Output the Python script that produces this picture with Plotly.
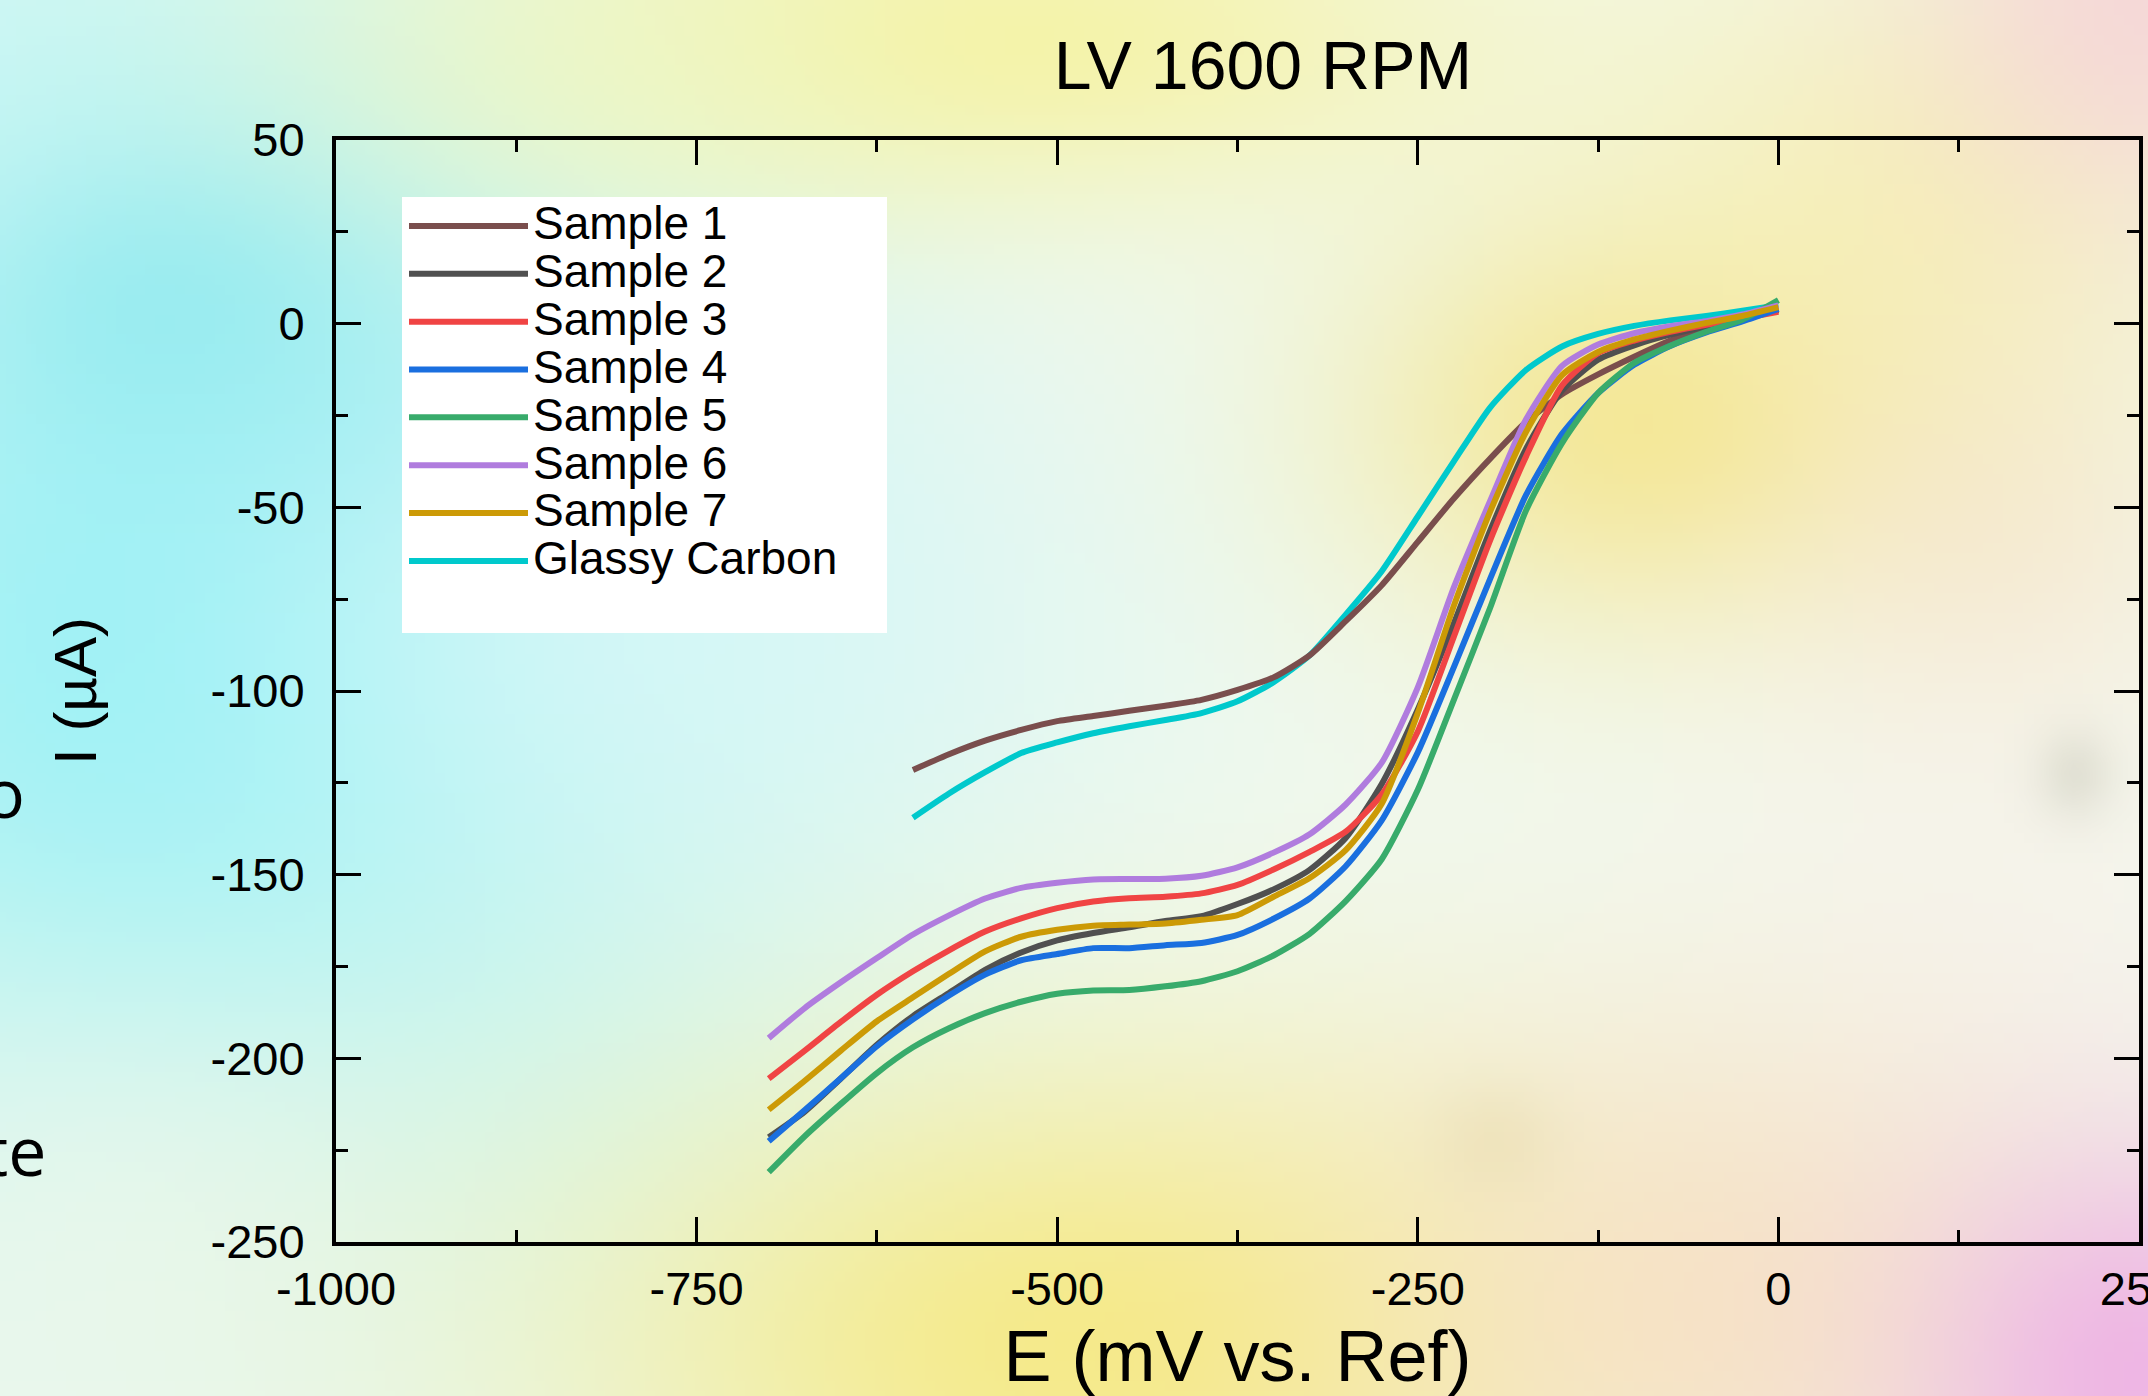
import base64
import struct
import zlib

import numpy as np
import plotly.graph_objects as go

# ---------------- data ----------------
E_MAIN = [-700, -675, -650, -625, -600, -575, -550, -525, -500, -475, -450, -425,
          -400, -375, -350, -325, -300, -275, -250, -225, -200, -175, -150, -125,
          -100, -75, -50, -25, 0]
E_SHORT = [-600, -575, -550, -525, -500, -475, -450, -425, -400, -375, -350, -325,
           -300, -275, -250, -225, -200, -175, -150, -125, -100, -75, -50, -25, 0]

SAMPLE_1 = [-121.5, -117.2, -113.5, -110.6, -108.2, -106.8, -105.4, -104.0, -102.4,
            -99.7, -96.3, -90.3, -81.0, -71.2, -59.4, -47.6, -36.8, -26.8, -19.2,
            -13.8, -9.0, -4.6, -1.0, 1.2, 3.7]
SAMPLE_2 = [-221.5, -214.5, -205.5, -196.3, -188.5, -182.2, -175.9, -171.2, -167.9,
            -165.9, -164.3, -162.6, -161.3, -158.0, -154.0, -148.7, -140.0, -125.3,
            -105.0, -81.6, -56.5, -34.1, -18.2, -9.8, -5.9, -3.0, -0.8, 1.3, 4.0]
SAMPLE_3 = [-205.5, -197.9, -190.1, -182.7, -176.3, -170.6, -165.5, -161.9, -159.1,
            -157.3, -156.4, -156.0, -155.1, -152.8, -148.6, -143.8, -138.3, -128.2,
            -111.0, -85.2, -59.1, -36.2, -16.8, -8.0, -4.6, -2.2, -0.3, 1.4, 3.2]
SAMPLE_4 = [-222.6, -214.1, -205.4, -196.7, -189.4, -182.9, -177.2, -173.3, -171.6,
            -170.0, -170.0, -169.2, -168.6, -166.4, -162.0, -156.5, -147.7, -135.2,
            -116.7, -93.5, -69.6, -46.7, -30.0, -18.9, -11.2, -6.1, -2.4, 0.6, 4.0]
SAMPLE_5 = [-231.0, -221.2, -212.4, -204.0, -197.0, -191.8, -187.7, -184.6, -182.4,
            -181.5, -181.4, -180.4, -179.0, -176.3, -172.0, -166.1, -157.2, -145.8,
            -126.9, -102.4, -77.5, -50.9, -32.5, -18.9, -10.7, -6.0, -2.2, 1.1, 6.4]
SAMPLE_6 = [-194.5, -186.3, -179.3, -172.7, -166.3, -161.1, -156.5, -153.6, -152.2,
            -151.3, -151.2, -151.1, -150.3, -148.0, -144.0, -139.0, -130.9, -119.5,
            -99.0, -71.8, -48.4, -26.1, -11.5, -5.7, -2.6, -0.7, 0.7, 2.5, 5.0]
SAMPLE_7 = [-214.0, -206.1, -197.9, -189.9, -183.4, -177.0, -170.9, -166.9, -165.0,
            -163.9, -163.6, -163.3, -162.3, -161.0, -156.0, -150.9, -143.3, -130.7,
            -106.0, -76.8, -51.3, -29.5, -14.0, -7.7, -4.3, -1.9, 0.2, 2.1, 4.5]
GLASSY_CARBON = [-134.5, -127.9, -122.1, -116.9, -114.0, -111.5, -109.6, -107.9,
                 -106.0, -102.8, -97.6, -90.3, -79.2, -67.4, -52.5, -37.5, -22.9,
                 -12.6, -6.2, -2.8, -0.6, 0.9, 2.1, 3.5, 5.0]

SERIES_NAMES = ["Sample 1", "Sample 2", "Sample 3", "Sample 4", "Sample 5",
                "Sample 6", "Sample 7", "Glassy Carbon"]

X_TICK_VALS = [-1000, -750, -500, -250, 0, 250]
X_TICK_TEXT = ["-1000", "-750", "-500", "-250", "0", "250"]
Y_TICK_VALS = [50, 0, -50, -100, -150, -200, -250]
Y_TICK_TEXT = ["50", "0", "-50", "-100", "-150", "-200", "-250"]

TITLE = "LV 1600 RPM"
X_TITLE = "E (mV vs. Ref)"
Y_TITLE = "I (\u00b5A)"

# ---------------- styling ----------------
COLORS = {
    "Sample 1": "#7a4e4d",
    "Sample 2": "#505050",
    "Sample 3": "#f04444",
    "Sample 4": "#1a6fdf",
    "Sample 5": "#38ab6b",
    "Sample 6": "#b07cde",
    "Sample 7": "#cc9a06",
    "Glassy Carbon": "#00c9cc",
}
FONT = "Liberation Sans, Arial, Helvetica, sans-serif"

W, H = 2148, 1396
ML, MR, MT, MB = 336, 9, 140, 154
PW, PH = W - ML - MR, H - MT - MB


def px(x, y):
    """figure pixel -> paper coordinates"""
    return (x - ML) / PW, 1 - (y - MT) / PH


def hex_rgb(h):
    h = h.lstrip("#")
    return [int(h[i:i + 2], 16) for i in (0, 2, 4)]


# ---------------- blurred background (decorative) ----------------
BG_BASE = "#f2f9ef"
BG_BLOBS = [  # cx, cy, sx, sy, color, alpha   (figure pixels)
    (200, 640, 380, 380, "#8ff0f6", 0.95),
    (60, 60, 220, 200, "#c4f7f8", 0.7),
    (180, 300, 170, 120, "#73e3ec", 0.5),
    (380, 450, 140, 100, "#7fe6ee", 0.35),
    (650, 620, 320, 220, "#d9f8f8", 0.75),
    (140, 1250, 260, 190, "#ecf8ec", 0.75),
    (980, 40, 360, 120, "#f6f2a0", 0.9),
    (640, 70, 200, 110, "#eef8c8", 0.5),
    (1650, 420, 210, 150, "#f4e486", 0.85),
    (1920, 200, 210, 190, "#f8eea6", 0.65),
    (1990, 560, 150, 150, "#f8dfc2", 0.5),
    (2148, 0, 160, 160, "#f6d0d6", 0.75),
    (1990, 890, 210, 200, "#f8f3ec", 0.6),
    (1100, 1345, 360, 200, "#f6e878", 0.85),
    (1720, 1300, 260, 200, "#f8dcc0", 0.7),
    (2140, 1375, 160, 160, "#eeb0e4", 0.9),
    (2075, 774, 28, 32, "#d6d6c8", 0.6),
    (1495, 1140, 45, 40, "#eadcb0", 0.45),
]


def background_uri():
    gw, gh = 215, 140
    xs = (np.arange(gw) + 0.5) * W / gw
    ys = (np.arange(gh) + 0.5) * H / gh
    X, Y = np.meshgrid(xs, ys)
    img = np.ones((gh, gw, 3)) * np.array(hex_rgb(BG_BASE), dtype=float)
    for cx, cy, sx, sy, col, a in BG_BLOBS:
        w = a * np.exp(-(((X - cx) / sx) ** 2 + ((Y - cy) / sy) ** 2) / 2)
        img = img * (1 - w[..., None]) + np.array(hex_rgb(col), float) * w[..., None]
    arr = np.clip(img, 0, 255).astype(np.uint8)
    raw = b"".join(b"\x00" + arr[r].tobytes() for r in range(gh))

    def chunk(tag, data):
        c = struct.pack(">I", len(data)) + tag + data
        return c + struct.pack(">I", zlib.crc32(tag + data) & 0xFFFFFFFF)

    png = (b"\x89PNG\r\n\x1a\n"
           + chunk(b"IHDR", struct.pack(">IIBBBBB", gw, gh, 8, 2, 0, 0, 0))
           + chunk(b"IDAT", zlib.compress(raw, 9))
           + chunk(b"IEND", b""))
    return "data:image/png;base64," + base64.b64encode(png).decode()


# ---------------- figure ----------------
series = [
    ("Glassy Carbon", E_SHORT, GLASSY_CARBON, 8),
    ("Sample 1", E_SHORT, SAMPLE_1, 1),
    ("Sample 2", E_MAIN, SAMPLE_2, 2),
    ("Sample 3", E_MAIN, SAMPLE_3, 3),
    ("Sample 4", E_MAIN, SAMPLE_4, 4),
    ("Sample 5", E_MAIN, SAMPLE_5, 5),
    ("Sample 6", E_MAIN, SAMPLE_6, 6),
    ("Sample 7", E_MAIN, SAMPLE_7, 7),
]

LEGEND_TEXT_SIZE = 46

fig = go.Figure()
for name, xs, ys, rank in series:
    fig.add_trace(go.Scatter(
        x=xs, y=ys, mode="lines", legendrank=rank,
        name=f'<span style="font-size:{LEGEND_TEXT_SIZE}px">{name}</span>',
        hovertemplate=f"{name}<br>E=%{{x}} mV<br>I=%{{y}} \u00b5A<extra></extra>",
        line=dict(color=COLORS[name], width=6, shape="spline", smoothing=0.6),
    ))

axis_common = dict(
    showline=True, linecolor="black", linewidth=4, mirror="ticks",
    ticks="inside", ticklen=25, tickwidth=3, tickcolor="black",
    showgrid=False, zeroline=False, ticklabeloverflow="allow",
    tickfont=dict(family=FONT, size=47, color="black"),
)

fig.update_xaxes(
    range=[-1000, 250], tickmode="array", tickvals=X_TICK_VALS, ticktext=X_TICK_TEXT,
    minor=dict(ticks="inside", ticklen=12, tickwidth=3, tickcolor="black",
               tickmode="linear", tick0=0, dtick=125, showgrid=False),
    ticklabelstandoff=3,
    title=dict(text=X_TITLE, font=dict(family=FONT, size=72, color="black"), standoff=60),
    **axis_common,
)
fig.update_yaxes(
    range=[-250, 50], tickmode="array", tickvals=Y_TICK_VALS, ticktext=Y_TICK_TEXT,
    minor=dict(ticks="inside", ticklen=12, tickwidth=3, tickcolor="black",
               tickmode="linear", tick0=0, dtick=25, showgrid=False),
    ticklabelstandoff=18,
    title=dict(text=Y_TITLE, font=dict(family=FONT, size=60, color="black"), standoff=96),
    **axis_common,
)

bx0, by0 = px(402, 197)
bx1, by1 = px(887, 633)
lx, ly = px(404, 197)
o_x, o_y = px(27, 791)
te_x, te_y = px(48, 1149)

fig.update_layout(
    width=W, height=H,
    margin=dict(l=ML, r=MR, t=MT, b=MB, pad=0, autoexpand=False),
    paper_bgcolor="#f2f9ef", plot_bgcolor="rgba(0,0,0,0)",
    font=dict(family=FONT, color="black"),
    title=dict(text=TITLE, font=dict(family=FONT, size=68, color="black"),
               xref="container", x=1263 / W, xanchor="center",
               yref="container", y=1 - 65 / H, yanchor="middle"),
    showlegend=True,
    legend=dict(x=lx, y=ly, xanchor="left", yanchor="top", bgcolor="rgba(0,0,0,0)",
                borderwidth=0, font=dict(family=FONT, size=34.5, color="black"),
                itemwidth=119, traceorder="normal", tracegroupgap=0),
    images=[dict(source=background_uri(), xref="paper", yref="paper",
                 x=-ML / PW, y=1 + MT / PH, sizex=W / PW, sizey=H / PH,
                 xanchor="left", yanchor="top", sizing="stretch", layer="below")],
    shapes=[dict(type="rect", xref="paper", yref="paper", x0=bx0, x1=bx1, y0=by1, y1=by0,
                 fillcolor="white", line=dict(width=0), layer="above")],
    annotations=[
        dict(text="o", xref="paper", yref="paper", x=o_x, y=o_y, xanchor="right",
             yanchor="middle", showarrow=False,
             font=dict(family="Open Sans, sans-serif", size=68, color="black")),
        dict(text="te", xref="paper", yref="paper", x=te_x, y=te_y, xanchor="right",
             yanchor="middle", showarrow=False,
             font=dict(family="Open Sans, sans-serif", size=68, color="black")),
    ],
)

fig.write_html("out.html", config=dict(displayModeBar=False))
